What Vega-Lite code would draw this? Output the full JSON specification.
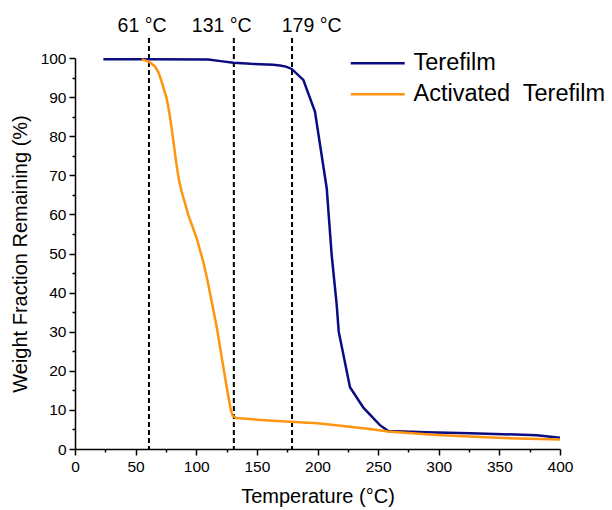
{
  "$schema": "https://vega.github.io/schema/vega-lite/v6.json",
  "width": 485,
  "height": 391,
  "autosize": "none",
  "padding": {"left": 75, "top": 58, "right": 52, "bottom": 61},
  "background": "white",
  "config": {
    "view": {"stroke": null},
    "font": "Liberation Sans",
    "axis": {
      "domainColor": "black", "domainWidth": 1.5, "tickColor": "black", "tickWidth": 1.5,
      "labelColor": "black", "labelFont": "Liberation Sans", "labelFontSize": 15.5,
      "titleFont": "Liberation Sans", "titleFontSize": 20, "titleFontWeight": "normal", "titleColor": "black",
      "grid": false, "labelOverlap": false
    }
  },
  "resolve": {"axis": {"x": "independent", "y": "independent"}},
  "datasets": {
    "curves": [
      {"series": "Terefilm", "T": 23.4, "W": 99.7},
      {"series": "Terefilm", "T": 60, "W": 99.7},
      {"series": "Terefilm", "T": 110, "W": 99.6},
      {"series": "Terefilm", "T": 120, "W": 99.2},
      {"series": "Terefilm", "T": 130.6, "W": 98.8},
      {"series": "Terefilm", "T": 145, "W": 98.5},
      {"series": "Terefilm", "T": 163.5, "W": 98.3},
      {"series": "Terefilm", "T": 169, "W": 98.1},
      {"series": "Terefilm", "T": 174, "W": 97.8},
      {"series": "Terefilm", "T": 178.7, "W": 97.2},
      {"series": "Terefilm", "T": 188.3, "W": 94.4},
      {"series": "Terefilm", "T": 197.9, "W": 86.3},
      {"series": "Terefilm", "T": 207.6, "W": 66.7},
      {"series": "Terefilm", "T": 211.7, "W": 49.6},
      {"series": "Terefilm", "T": 215.8, "W": 37.0},
      {"series": "Terefilm", "T": 217.5, "W": 30.0},
      {"series": "Terefilm", "T": 226.8, "W": 15.8},
      {"series": "Terefilm", "T": 238, "W": 10.5},
      {"series": "Terefilm", "T": 251.5, "W": 6.1},
      {"series": "Terefilm", "T": 258.4, "W": 4.6},
      {"series": "Terefilm", "T": 290, "W": 4.3},
      {"series": "Terefilm", "T": 325.8, "W": 4.0},
      {"series": "Terefilm", "T": 353, "W": 3.8},
      {"series": "Terefilm", "T": 380.8, "W": 3.5},
      {"series": "Terefilm", "T": 400, "W": 2.9},
      {"series": "Activated\u00a0 Terefilm", "T": 55, "W": 99.6},
      {"series": "Activated\u00a0 Terefilm", "T": 58, "W": 99.4},
      {"series": "Activated\u00a0 Terefilm", "T": 60.5, "W": 99.05},
      {"series": "Activated\u00a0 Terefilm", "T": 63, "W": 98.6},
      {"series": "Activated\u00a0 Terefilm", "T": 66, "W": 97.8},
      {"series": "Activated\u00a0 Terefilm", "T": 69, "W": 96.2},
      {"series": "Activated\u00a0 Terefilm", "T": 71.5, "W": 93.9},
      {"series": "Activated\u00a0 Terefilm", "T": 75.6, "W": 89.7},
      {"series": "Activated\u00a0 Terefilm", "T": 77.8, "W": 86.0},
      {"series": "Activated\u00a0 Terefilm", "T": 79.7, "W": 82.0},
      {"series": "Activated\u00a0 Terefilm", "T": 83.8, "W": 72.6},
      {"series": "Activated\u00a0 Terefilm", "T": 85.8, "W": 68.7},
      {"series": "Activated\u00a0 Terefilm", "T": 88, "W": 65.8},
      {"series": "Activated\u00a0 Terefilm", "T": 93.5, "W": 59.8},
      {"series": "Activated\u00a0 Terefilm", "T": 100.3, "W": 53.9},
      {"series": "Activated\u00a0 Terefilm", "T": 105.8, "W": 47.9},
      {"series": "Activated\u00a0 Terefilm", "T": 109.5, "W": 42.8},
      {"series": "Activated\u00a0 Terefilm", "T": 112.7, "W": 37.7},
      {"series": "Activated\u00a0 Terefilm", "T": 117, "W": 31.0},
      {"series": "Activated\u00a0 Terefilm", "T": 121, "W": 23.5},
      {"series": "Activated\u00a0 Terefilm", "T": 125, "W": 16.0},
      {"series": "Activated\u00a0 Terefilm", "T": 128.5, "W": 10.0},
      {"series": "Activated\u00a0 Terefilm", "T": 130, "W": 8.5},
      {"series": "Activated\u00a0 Terefilm", "T": 133, "W": 7.9},
      {"series": "Activated\u00a0 Terefilm", "T": 150, "W": 7.5},
      {"series": "Activated\u00a0 Terefilm", "T": 177.3, "W": 7.0},
      {"series": "Activated\u00a0 Terefilm", "T": 200, "W": 6.6},
      {"series": "Activated\u00a0 Terefilm", "T": 221, "W": 5.9},
      {"series": "Activated\u00a0 Terefilm", "T": 243.3, "W": 5.1},
      {"series": "Activated\u00a0 Terefilm", "T": 258, "W": 4.5},
      {"series": "Activated\u00a0 Terefilm", "T": 298, "W": 3.6},
      {"series": "Activated\u00a0 Terefilm", "T": 353, "W": 2.8},
      {"series": "Activated\u00a0 Terefilm", "T": 400, "W": 2.4}
    ],
    "marks": [
      {"T": 61, "top": 105.1, "bottom": 0, "labelT": 55.3, "labelW": 106.6, "label": "61 °C"},
      {"T": 131, "top": 105.1, "bottom": 0, "labelT": 121, "labelW": 106.6, "label": "131 °C"},
      {"T": 179, "top": 105.1, "bottom": 0, "labelT": 195.2, "labelW": 106.6, "label": "179 °C"}
    ]
  },
  "layer": [
    {
      "data": {"name": "marks"},
      "mark": {"type": "rule", "color": "black", "strokeWidth": 2, "strokeDash": [5, 3]},
      "encoding": {
        "x": {
          "field": "T", "type": "quantitative",
          "axis": {
            "orient": "bottom", "title": null, "labels": false, "domain": false,
            "values": [25, 75, 125, 175, 225, 275, 325, 375], "tickSize": 3
          }
        },
        "y": {
          "field": "top", "type": "quantitative",
          "axis": {
            "orient": "left", "title": null, "labels": false, "domain": false,
            "values": [5, 15, 25, 35, 45, 55, 65, 75, 85, 95], "tickSize": 3
          }
        },
        "y2": {"field": "bottom"}
      }
    },
    {
      "data": {"name": "marks"},
      "mark": {"type": "text", "fontSize": 19.5, "color": "black", "align": "center", "baseline": "alphabetic", "font": "Liberation Sans"},
      "encoding": {
        "x": {"field": "labelT", "type": "quantitative", "axis": null},
        "y": {"field": "labelW", "type": "quantitative", "axis": null},
        "text": {"field": "label"}
      }
    },
    {
      "data": {"name": "curves"},
      "mark": {"type": "line", "strokeWidth": 2.5, "interpolate": "linear"},
      "encoding": {
        "x": {
          "field": "T", "type": "quantitative",
          "scale": {"domain": [0, 400], "nice": false},
          "axis": {
            "orient": "bottom",
            "title": "Temperature (°C)",
            "values": [0, 50, 100, 150, 200, 250, 300, 350, 400],
            "tickSize": 6,
            "labelPadding": 4, "titlePadding": 12, "labelFlush": false
          }
        },
        "y": {
          "field": "W", "type": "quantitative",
          "scale": {"domain": [0, 100], "nice": false},
          "axis": {
            "orient": "left",
            "title": "Weight Fraction Remaining (%)",
            "values": [0, 10, 20, 30, 40, 50, 60, 70, 80, 90, 100],
            "tickSize": 6,
            "labelPadding": 3, "titlePadding": 10, "labelFlush": false
          }
        },
        "color": {
          "field": "series", "type": "nominal",
          "scale": {"domain": ["Terefilm", "Activated\u00a0 Terefilm"], "range": ["#0b0b82", "#ff9410"]},
          "legend": {
            "title": null, "orient": "none", "legendX": 291, "legendY": -6.5,
            "symbolType": "M-3,0H3", "symbolSize": 324, "symbolStrokeWidth": 2.5,
            "labelFontSize": 23.5, "labelFont": "Liberation Sans", "labelColor": "black",
            "labelOffset": 24, "rowPadding": 6, "padding": 0, "labelLimit": 400
          }
        }
      }
    }
  ]
}
